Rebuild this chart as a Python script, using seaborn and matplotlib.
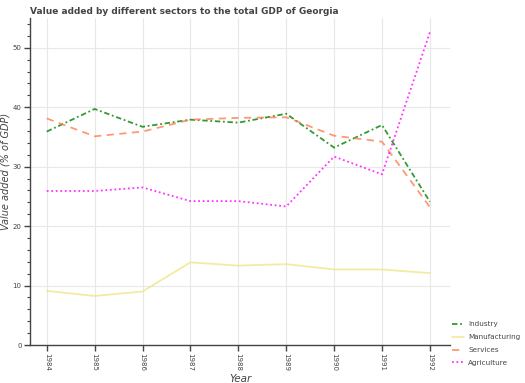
import matplotlib
matplotlib.use("Agg")
import matplotlib.pyplot as plt
import seaborn as sns
import pandas as pd
from matplotlib.ticker import MultipleLocator

years = [1984, 1985, 1986, 1987, 1988, 1989, 1990, 1991, 1992]
industry = [35.9, 39.7, 36.7, 37.9, 37.4, 38.9, 33.2, 37.0, 24.1]
manufacturing = [9.1, 8.25, 9.0, 13.9, 13.35, 13.6, 12.7, 12.7, 12.1]
services = [38.1, 35.1, 35.9, 37.9, 38.2, 38.3, 35.2, 34.2, 23.2]
agriculture = [25.9, 25.9, 26.5, 24.2, 24.2, 23.3, 31.7, 28.7, 52.6]

sectors = ["Industry", "Manufacturing", "Services", "Agriculture"]
colors = {"Industry": "#008000", "Manufacturing": "#f0e68c",
          "Services": "#ff7f50", "Agriculture": "#ff00ff"}
dashes = {"Industry": (3, 1.5, 1, 1.5), "Manufacturing": "",
          "Services": (4, 3), "Agriculture": (1, 1.5)}

df = pd.DataFrame({"Year": years * 4,
                   "value": industry + manufacturing + services + agriculture,
                   "Sector": sum([[s] * len(years) for s in sectors], [])})

sns.set_style("white")
fig = plt.figure(figsize=(5.25, 3.83), dpi=100)
ax = fig.add_axes([30 / 525, 1 - 345 / 383, 420 / 525, 327 / 383])

sns.lineplot(data=df, x="Year", y="value", hue="Sector", style="Sector",
             palette=colors, dashes=dashes, hue_order=sectors, style_order=sectors,
             linewidth=1.3, alpha=0.8, ax=ax, legend=True)

ax.set_xlim(1983.65, 1992.42)
ax.set_ylim(0, 55)
ax.set_xticks(years)
ax.set_xticklabels([str(y) for y in years], rotation=-90)
ax.yaxis.set_major_locator(MultipleLocator(10))
ax.yaxis.set_minor_locator(MultipleLocator(2))
ax.grid(True, which="major", color="#e8e8e8", linewidth=0.8)
ax.set_axisbelow(True)
for s in ["top", "right"]:
    ax.spines[s].set_visible(False)
for s in ["left", "bottom"]:
    ax.spines[s].set_color("#444444")
    ax.spines[s].set_linewidth(1)
ax.tick_params(axis="both", which="major", direction="out", length=4,
               width=1, color="#444444", labelsize=5, labelcolor="#444444",
               left=True, bottom=True, pad=2)
ax.tick_params(axis="y", which="minor", direction="out", length=2,
               width=0.8, color="#444444", left=True)
ax.set_xlabel("Year", fontsize=7.5, style="italic", color="#444444", labelpad=2)
ax.set_ylabel("Value added (% of GDP)", fontsize=7, style="italic",
              color="#444444")
ax.yaxis.set_label_coords(-0.046, 0.53)
fig.text(30 / 525, 1 - 11 / 383, "Value added by different sectors to the total GDP of Georgia",
         fontsize=6.5, fontweight="bold", color="#444444", va="center", ha="left")

handles, labels = ax.get_legend_handles_labels()
ax.legend_.remove()
fig.legend(handles, labels, loc="upper left", bbox_to_anchor=(450 / 525, 1 - 319 / 383),
           frameon=False, fontsize=5.2, handlelength=1.7, labelspacing=0.95,
           handletextpad=0.5, labelcolor="#444444", borderaxespad=0, borderpad=0.3)

fig.savefig("out.png", dpi=100)
